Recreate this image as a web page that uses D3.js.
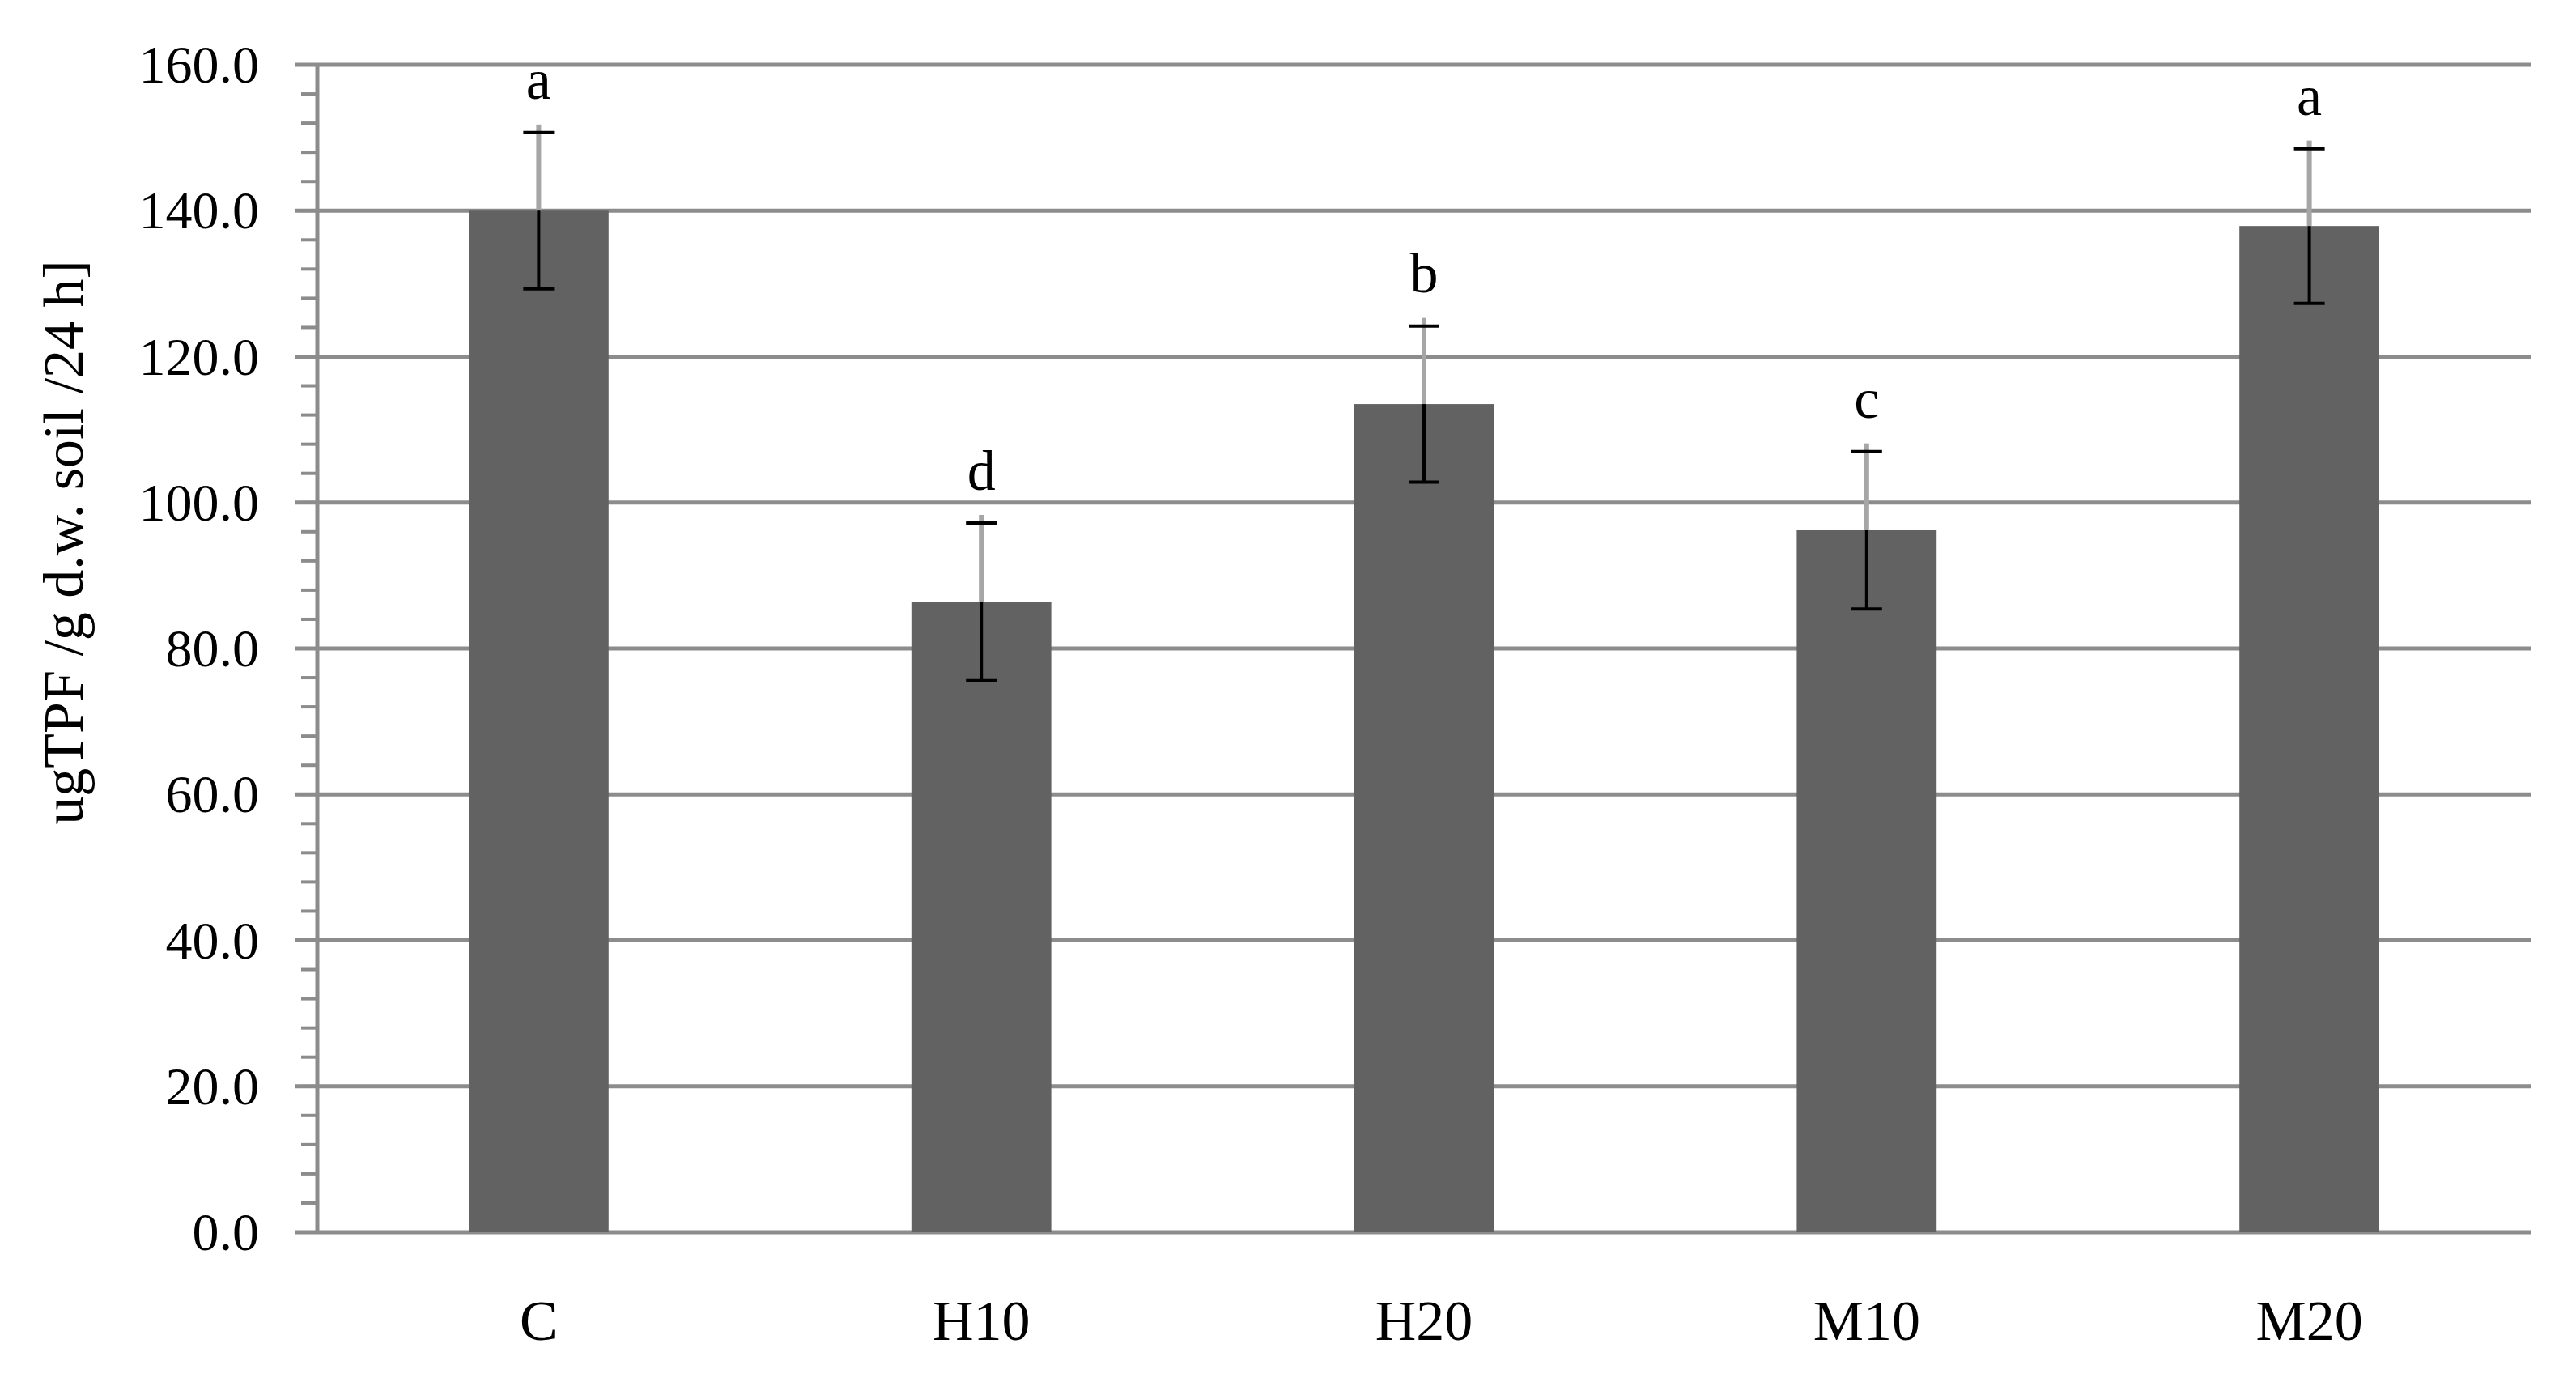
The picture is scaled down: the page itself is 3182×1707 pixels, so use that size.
<!DOCTYPE html>
<html>
<head>
<meta charset="utf-8">
<script src="https://cdn.jsdelivr.net/npm/d3@7"></script>
<style>
  body { margin: 0; background: #fff; }
  svg text { font-family: "Liberation Serif", "DejaVu Serif", serif; fill: #000; }
</style>
</head>
<body>
<svg id="chart" width="3182" height="1707"></svg>
<script>
// data
const categories = ["C", "H10", "H20", "M10", "M20"];
const means = [140.0, 86.4, 113.5, 96.2, 137.9];
const errors = [10.7, 10.8, 10.7, 10.8, 10.6];
const letters = ["a", "d", "b", "c", "a"];
const yTicks = [0, 20, 40, 60, 80, 100, 120, 140, 160];

const svg = d3.select('#chart');
const plotLeft = 392, plotRight = 3126, plotTop = 80, plotBottom = 1522;
const gridColor = "#8c8c8c";

const x = d3.scaleBand()
    .domain(categories)
    .range([plotLeft, plotRight])
    .paddingInner(0.684)
    .paddingOuter(0.342);

const y = d3.scaleLinear()
    .domain([0, 160])
    .range([plotBottom, plotTop]);

// minor ticks every 4 units
svg.append('g').selectAll('line')
    .data(d3.range(0, 161, 4))
    .join('line')
    .attr('x1', plotLeft - 20).attr('x2', plotLeft)
    .attr('y1', d => y(d)).attr('y2', d => y(d))
    .attr('stroke', gridColor).attr('stroke-width', 4);

// gridlines
svg.append('g').selectAll('line')
    .data(yTicks)
    .join('line')
    .attr('x1', plotLeft - 27).attr('x2', plotRight)
    .attr('y1', d => y(d)).attr('y2', d => y(d))
    .attr('stroke', gridColor).attr('stroke-width', 5);

// y axis line
svg.append('line')
    .attr('x1', plotLeft).attr('x2', plotLeft)
    .attr('y1', plotTop).attr('y2', plotBottom)
    .attr('stroke', gridColor).attr('stroke-width', 5);

// tick labels
svg.append('g').selectAll('text')
    .data(yTicks)
    .join('text')
    .attr('x', 320)
    .attr('y', d => y(d) + 22)
    .attr('text-anchor', 'end')
    .attr('font-size', 66)
    .text(d => d.toFixed(1));

// bars
svg.append('g').selectAll('rect')
    .data(means)
    .join('rect')
    .attr('x', (d, i) => x(categories[i]))
    .attr('width', x.bandwidth())
    .attr('y', d => y(d))
    .attr('height', d => plotBottom - y(d))
    .attr('fill', '#626262');

// error bars: grey upper stem, black lower stem and caps
const eb = svg.append('g');
means.forEach((m, i) => {
    const cx = x(categories[i]) + x.bandwidth() / 2;
    const e = errors[i];
    eb.append('line').attr('x1', cx).attr('x2', cx)
        .attr('y1', y(m)).attr('y2', y(m + e) - 10)
        .attr('stroke', '#a6a6a6').attr('stroke-width', 6);
    eb.append('line').attr('x1', cx).attr('x2', cx)
        .attr('y1', y(m)).attr('y2', y(m - e))
        .attr('stroke', '#000').attr('stroke-width', 4);
    [m + e, m - e].forEach(v => {
        eb.append('line').attr('x1', cx - 19).attr('x2', cx + 19)
            .attr('y1', y(v)).attr('y2', y(v))
            .attr('stroke', '#000').attr('stroke-width', 4);
    });
    eb.append('text')
        .attr('x', cx).attr('y', y(m + e + 4.6))
        .attr('text-anchor', 'middle')
        .attr('font-size', 70)
        .text(letters[i]);
});

// category labels
svg.append('g').selectAll('text')
    .data(categories)
    .join('text')
    .attr('x', d => x(d) + x.bandwidth() / 2)
    .attr('y', 1655)
    .attr('text-anchor', 'middle')
    .attr('font-size', 70)
    .text(d => d);

// y title
svg.append('text')
    .attr('transform', 'translate(102,670) rotate(-90)')
    .attr('text-anchor', 'middle')
    .attr('font-size', 70)
    .text('ugTPF /g d.w. soil /24 h]');
</script>
</body>
</html>
